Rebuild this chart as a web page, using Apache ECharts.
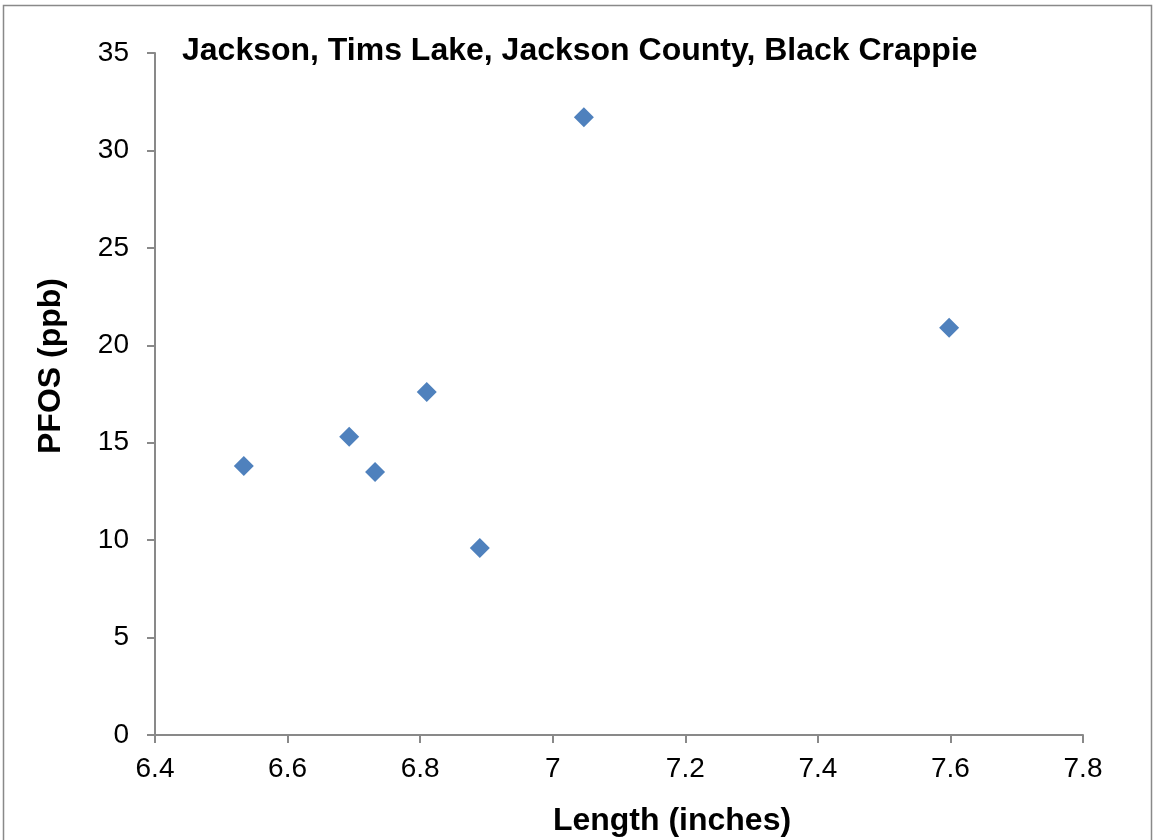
<!DOCTYPE html>
<html><head><meta charset="utf-8">
<script src="https://cdn.jsdelivr.net/npm/echarts@6/dist/echarts.min.js"></script>
<style>html,body{margin:0;padding:0;background:#fff}#c{width:1156px;height:840px}</style>
</head><body><div id="c"></div>
<script>
const titleText = 'Jackson, Tims Lake, Jackson County, Black Crappie';
const xName = 'Length (inches)';
const yName = 'PFOS (ppb)';
const lengths = [6.534, 6.693, 6.732, 6.810, 6.890, 7.047, 7.598];
const pfos = [13.8, 15.3, 13.5, 17.6, 9.6, 31.7, 20.9];
const data = lengths.map((x, i) => [x, pfos[i]]);
const chart = echarts.init(document.getElementById('c'));
const font = '"Liberation Sans", Arial, sans-serif';
chart.setOption({
  animation: false,
  backgroundColor: '#fff',
  title: { text: titleText, left: 177, top: 30, textStyle: { fontFamily: font, fontSize: 32, fontWeight: 'bold', color: '#000' } },
  graphic: [{ type: 'rect', shape: { x: 3.5, y: 5.5, width: 1148, height: 850 }, style: { fill: 'none', stroke: '#898989', lineWidth: 1.5 }, silent: true }],
  grid: { left: 155, right: 73, top: 53, bottom: 105, containLabel: false, outerBoundsMode: 'none' },
  xAxis: {
    type: 'value', min: 6.4, max: 7.8, interval: 0.2,
    name: xName, nameLocation: 'middle', nameGap: 70,
    nameTextStyle: { fontFamily: font, fontSize: 32, fontWeight: 'bold', color: '#000', padding: [0, 0, 0, 106] },
    axisLine: { lineStyle: { color: '#898989', width: 2 } },
    axisTick: { show: true, length: 8, lineStyle: { color: '#898989', width: 2 } },
    axisLabel: { fontFamily: font, fontSize: 28, color: '#000', margin: 20, formatter: v => String(Math.round(v * 10) / 10) },
    splitLine: { show: false }
  },
  yAxis: {
    type: 'value', min: 0, max: 35, interval: 5,
    name: yName, nameLocation: 'middle', nameGap: 88,
    nameTextStyle: { fontFamily: font, fontSize: 32, fontWeight: 'bold', color: '#000', padding: [0, 0, 0, 56] },
    axisLine: { show: true, lineStyle: { color: '#898989', width: 2 } },
    axisTick: { show: true, length: 8, lineStyle: { color: '#898989', width: 2 } },
    axisLabel: { fontFamily: font, fontSize: 28, color: '#000', margin: 26 },
    splitLine: { show: false }
  },
  series: [{ type: 'scatter', data: data, symbol: 'diamond', symbolSize: 20, itemStyle: { color: '#4F81BD', opacity: 1 } }]
});
</script></body></html>
